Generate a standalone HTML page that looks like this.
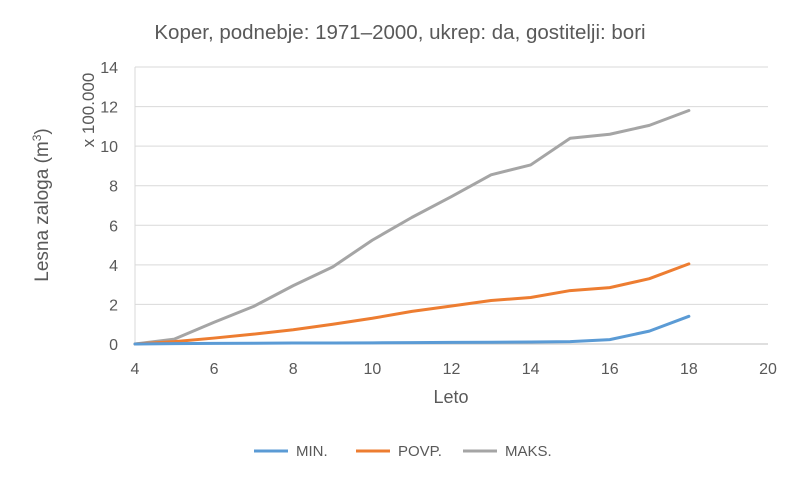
<!DOCTYPE html>
<html><head><meta charset="utf-8"><style>
body{margin:0;background:#fff;width:800px;height:480px;overflow:hidden;font-family:"Liberation Sans",sans-serif}
</style></head><body>
<svg id="chart" width="800" height="480" style="font-family:'Liberation Sans',sans-serif">
<text x="400" y="39" text-anchor="middle" font-size="20.5" fill="#595959">Koper, podnebje: 1971–2000, ukrep: da, gostitelji: bori</text>
<text transform="translate(48,205) rotate(-90)" text-anchor="middle" font-size="19" fill="#595959">Lesna zaloga (m<tspan dy="-7" font-size="12">3</tspan><tspan dy="7">)</tspan></text>
<text transform="translate(94,110) rotate(-90)" text-anchor="middle" font-size="17" fill="#595959">x 100.000</text>
<text x="451" y="403" text-anchor="middle" font-size="18" fill="#595959">Leto</text>
<g id="grid"></g><g id="axes"></g><g id="series"></g>
<g font-size="15" fill="#595959">
<g><line x1="254" y1="451" x2="288" y2="451" stroke="#5B9BD5" stroke-width="3"/><text x="296" y="456">MIN.</text></g>
<g><line x1="356" y1="451" x2="390" y2="451" stroke="#ED7D31" stroke-width="3"/><text x="398" y="456">POVP.</text></g>
<g><line x1="463" y1="451" x2="497" y2="451" stroke="#A5A5A5" stroke-width="3"/><text x="505" y="456">MAKS.</text></g>
</g>
</svg>
<script>
const years=[4,5,6,7,8,9,10,11,12,13,14,15,16,17,18];
const minVals=[0,0.02,0.03,0.04,0.05,0.05,0.06,0.07,0.08,0.09,0.1,0.12,0.22,0.65,1.4];
const povpVals=[0,0.12,0.3,0.5,0.72,1.0,1.3,1.65,1.92,2.2,2.35,2.7,2.85,3.3,4.05];
const maksVals=[0,0.25,1.1,1.9,2.95,3.9,5.25,6.4,7.45,8.55,9.05,10.4,10.6,11.05,11.8];
const xTicks=[4,6,8,10,12,14,16,18,20];
const yTicks=[0,2,4,6,8,10,12,14];
const NS="http://www.w3.org/2000/svg";
const X=v=>135+(v-4)*(768-135)/16;
const Y=v=>344-v*(344-67)/14;
function mk(t,a,p){const e=document.createElementNS(NS,t);for(const k in a)e.setAttribute(k,a[k]);p.appendChild(e);return e;}
const grid=document.getElementById('grid'),axes=document.getElementById('axes'),ser=document.getElementById('series');
yTicks.forEach(v=>{
 if(v>0){const l=mk('line',{x1:135,x2:768,y1:Y(v),y2:Y(v),stroke:'#d9d9d9','stroke-width':1},grid);
 
 }
 const t=mk('text',{x:118,y:Y(v)+6,'text-anchor':'end','font-size':16,fill:'#595959'},axes);t.textContent=v;
 
 
});
xTicks.forEach(v=>{
 const t=mk('text',{x:X(v),y:374,'text-anchor':'middle','font-size':16,fill:'#595959'},axes);t.textContent=v;
 
 
});
const ay=mk('line',{x1:135,x2:135,y1:67,y2:344,stroke:'#d9d9d9'},axes);


const ax=mk('line',{x1:135,x2:768,y1:344,y2:344,stroke:'#bfbfbf'},axes);


[[maksVals,'#A5A5A5','line-maks'],[povpVals,'#ED7D31','line-povp'],[minVals,'#5B9BD5','line-min']].forEach(([vals,c,n])=>{
 const p=mk('polyline',{points:vals.map((v,i)=>X(years[i])+','+Y(v)).join(' '),fill:'none',stroke:c,'stroke-width':3,'stroke-linejoin':'round','stroke-linecap':'round'},ser);
 
 
});
</script>
</body></html>
